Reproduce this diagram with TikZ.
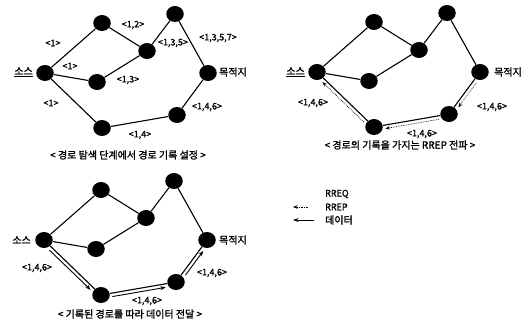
\documentclass[tikz,border=0pt]{standalone}
\usepackage{fontspec}
\setmainfont{Noto Sans CJK KR}[FakeBold=1.6]
\usetikzlibrary{calc,arrows.meta,shapes.geometric}

\tikzset{
  nd/.style={ellipse,fill=black,minimum width=17.5pt,minimum height=16pt,inner sep=0pt},
  edge/.style={line width=1.1pt},
  lbl/.style={font=\fontsize{9}{10}\selectfont,inner sep=0pt},
  klbl/.style={font=\fontsize{10}{11}\selectfont,inner sep=0pt},
  captxt/.style={font=\fontsize{10}{11}\selectfont,inner sep=0pt},
  rrep/.style={densely dotted,line width=0.7pt,-{Stealth[length=4.5pt,width=3.5pt]}},
  data/.style={line width=0.9pt,-{Stealth[length=5.5pt,width=4pt]}}
}

% one copy of the network; #1 is the name prefix
\newcommand\netpanel[1]{%
  \node[nd] (#1s)  at (45,73)  {};
  \node[nd] (#1t1) at (102,23) {};
  \node[nd] (#1m)  at (147,51) {};
  \node[nd] (#1t2) at (175,14) {};
  \node[nd] (#1l)  at (97,82)  {};
  \node[nd] (#1d)  at (208,73) {};
  \node[nd] (#1b)  at (102,128) {};
  \node[nd] (#1br) at (177,115) {};
  \draw[edge] (#1s) -- (#1t1) -- (#1m) -- (#1t2) -- (#1d);
  \draw[edge] (#1s) -- (#1l) -- (#1m);
  \draw[edge] (#1s) -- (#1b) -- (#1br) -- (#1d);
}

% arrow running beside the edge from #2 to #3, on side #4 (90 or -90)
\newcommand\sidearrow[4]{%
  \draw[#1] ($(#2)!11pt!(#3)!3.5pt!#4:(#3)$) -- ($(#3)!11pt!(#2)!3.5pt!-#4:(#2)$);
}

\begin{document}
\begin{tikzpicture}[x=1pt,y=-1pt]
\useasboundingbox (0,0) rectangle (528,332);

% --- route record set during discovery
\begin{scope}
  \netpanel{a}
\end{scope}
\node[klbl,anchor=east] (asrc) at (33,72) {\underline{소스}};
\node[klbl,anchor=west] (adst) at (219,72) {목적지};
\node[lbl] (a1) at (53,43) {<1>};
\node[lbl] (a2) at (133,25) {<1,2>};
\node[lbl] (a3) at (70,66) {<1>};
\node[lbl] (a4) at (173,43) {<1,3,5>};
\node[lbl] (a5) at (218,38) {<1,3,5,7>};
\node[lbl] (a6) at (128,80) {<1,3>};
\node[lbl] (a7) at (51,103) {<1>};
\node[lbl] (a8) at (207,107) {<1,4,6>};
\node[lbl] (a9) at (140,135) {<1,4>};
\node[captxt] (acap) at (128,155) {< 경로 탐색 단계에서 경로 기록 설정 >};

% --- RREP carrying the route record
\begin{scope}[shift={(272,-1)}]
  \netpanel{b}
\end{scope}
\sidearrow{rrep}{bd}{bbr}{90}
\sidearrow{rrep}{bbr}{bb}{90}
\sidearrow{rrep}{bb}{bs}{90}
\node[klbl,anchor=east] (bsrc) at (305,72) {\underline{소스}};
\node[klbl,anchor=west] (bdst) at (494,72) {목적지};
\node[lbl] (b1) at (313,103) {<1,4,6>};
\node[lbl] (b2) at (492,107) {<1,4,6>};
\node[lbl] (b3) at (422,134) {<1,4,6>};
\node[captxt] (bcap) at (400,145) {< 경로의 기록을 가지는 RREP 전파 >};

% --- data forwarded along the recorded route
\begin{scope}[shift={(-1,167)}]
  \netpanel{c}
\end{scope}
\sidearrow{data}{cs}{cb}{-90}
\sidearrow{data}{cb}{cbr}{-90}
\sidearrow{data}{cbr}{cd}{-90}
\node[klbl,anchor=east] (csrc) at (31,240) {소스};
\node[klbl,anchor=west] (cdst) at (219,240) {목적지};
\node[lbl] (c1) at (37,268) {<1,4,6>};
\node[lbl] (c2) at (147,301) {<1,4,6>};
\node[lbl] (c3) at (212,273) {<1,4,6>};
\node[captxt] (ccap) at (130,314) {< 기록된 경로를 따라 데이터 전달 >};

% --- legend
\node[lbl,anchor=west] (lq) at (325,194) {RREQ};
\node[lbl,anchor=west] (lp) at (325,207) {RREP};
\node[klbl,anchor=west] (ld) at (325,220) {데이터};
\coordinate (lpa) at (293,207);
\coordinate (lda) at (293,220);
\draw[rrep] (lp.west) ++(-17,0) -- (lpa);
\draw[data] (ld.west) ++(-11,0) -- (lda);
\end{tikzpicture}
\end{document}
